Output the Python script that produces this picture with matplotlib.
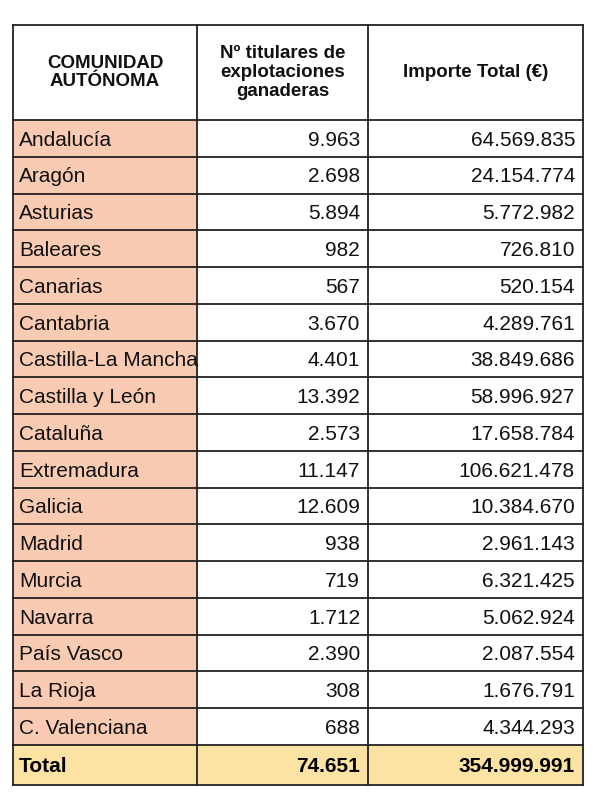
import matplotlib.pyplot as plt
from matplotlib.patches import Rectangle

regions = ['Andalucía', 'Aragón', 'Asturias', 'Baleares', 'Canarias', 'Cantabria',
           'Castilla-La Mancha', 'Castilla y León', 'Cataluña', 'Extremadura', 'Galicia',
           'Madrid', 'Murcia', 'Navarra', 'País Vasco', 'La Rioja', 'C. Valenciana']
titulares = ['9.963', '2.698', '5.894', '982', '567', '3.670', '4.401', '13.392', '2.573',
             '11.147', '12.609', '938', '719', '1.712', '2.390', '308', '688']
importe = ['64.569.835', '24.154.774', '5.772.982', '726.810', '520.154', '4.289.761',
           '38.849.686', '58.996.927', '17.658.784', '106.621.478', '10.384.670',
           '2.961.143', '6.321.425', '5.062.924', '2.087.554', '1.676.791', '4.344.293']
total_label = 'Total'
total_tit = '74.651'
total_imp = '354.999.991'
headers = ['COMUNIDAD\nAUTÓNOMA', 'Nº titulares de\nexplotaciones\nganaderas', 'Importe Total (€)']

plt.rcParams['font.family'] = ['Liberation Sans', 'DejaVu Sans']
fig = plt.figure(figsize=(5.93, 8), dpi=100)
ax = fig.add_axes([0, 0, 1, 1])
ax.set_xlim(0, 593)
ax.set_ylim(800, 0)
ax.axis('off')

cols = [13, 197, 368, 583]
top, head_bot, data_bot, bottom = 25, 120, 745, 785
rh = (data_bot - head_bot) / len(regions)

# backgrounds
ax.add_patch(Rectangle((cols[0], head_bot), cols[1] - cols[0], data_bot - head_bot,
                       facecolor='#F9CBB2', edgecolor='none'))
ax.add_patch(Rectangle((cols[0], data_bot), cols[3] - cols[0], bottom - data_bot,
                       facecolor='#FCE3A4', edgecolor='none'))

# grid lines
lw = 1.3
for x in cols:
    ax.plot([x, x], [top, bottom], color='#222222', lw=lw)
ys = [top, head_bot] + [head_bot + rh * i for i in range(1, len(regions))] + [data_bot, bottom]
for y in ys:
    ax.plot([cols[0], cols[3]], [y, y], color='#222222', lw=lw)

# header
for i, h in enumerate(headers):
    ax.text((cols[i] + cols[i + 1]) / 2, (top + head_bot) / 2, h, ha='center', va='center',
            fontsize=13.5, fontweight='bold', linespacing=1.15, color='#111111')

fs = 15
for i, (r, t, v) in enumerate(zip(regions, titulares, importe)):
    yc = head_bot + rh * (i + 0.55)
    ax.text(cols[0] + 6, yc, r, ha='left', va='center', fontsize=fs, color='#111111')
    ax.text(cols[2] - 8, yc, t, ha='right', va='center', fontsize=fs, color='#111111')
    ax.text(cols[3] - 8, yc, v, ha='right', va='center', fontsize=fs, color='#111111')

yc = (data_bot + bottom) / 2 + 2
ax.text(cols[0] + 6, yc, total_label, ha='left', va='center', fontsize=fs, fontweight='bold')
ax.text(cols[2] - 8, yc, total_tit, ha='right', va='center', fontsize=fs, fontweight='bold')
ax.text(cols[3] - 8, yc, total_imp, ha='right', va='center', fontsize=fs, fontweight='bold')

fig.savefig('out.png', dpi=100)
